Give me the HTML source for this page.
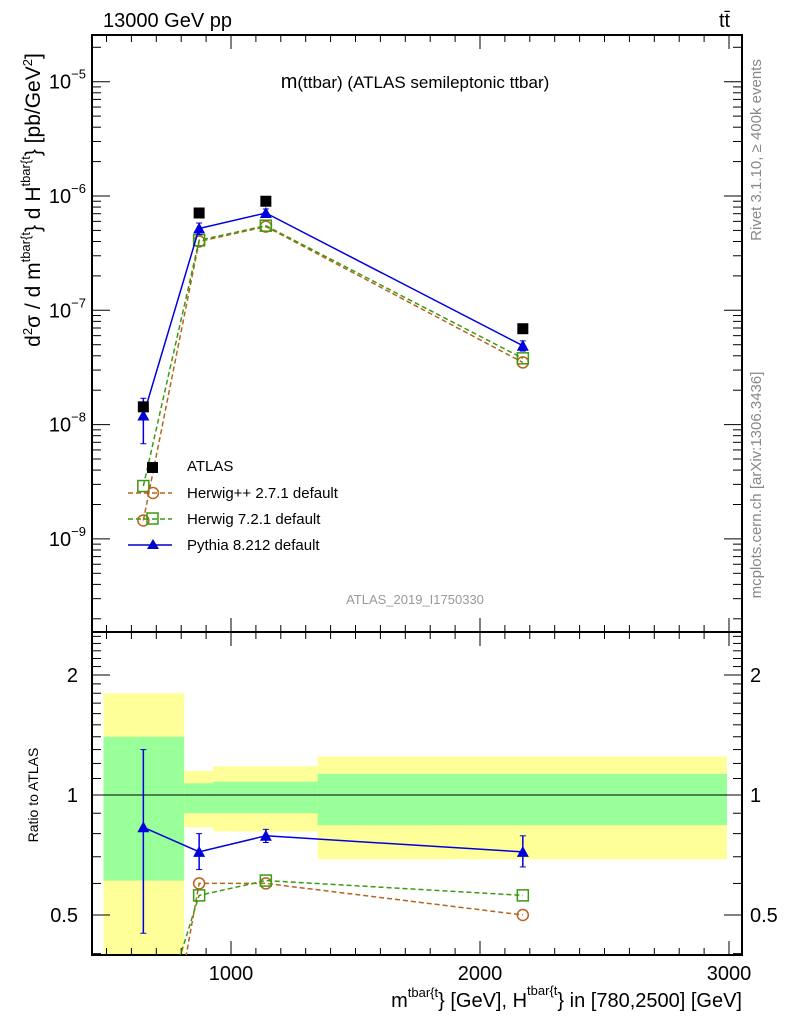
<!DOCTYPE html>
<html><head><meta charset="utf-8"><style>
html,body{margin:0;padding:0;background:#fff;width:786px;height:1024px;overflow:hidden}
svg{display:block;font-family:"Liberation Sans",sans-serif}
</style></head><body>
<svg id="c" width="786" height="1024" viewBox="0 0 786 1024" xmlns="http://www.w3.org/2000/svg">
<defs><clipPath id="rc"><rect x="92" y="632" width="650" height="323"/></clipPath></defs>
<g id="bands"></g>
<g id="g"></g>
<text x="103" y="27" font-size="20">13000 GeV pp</text>
<text x="719" y="27" font-size="20">tt̄</text>
<text x="415" y="88" font-size="17" text-anchor="middle"><tspan font-size="20">m</tspan>(ttbar) (ATLAS semileptonic ttbar)</text>
<text x="415" y="604" font-size="13" fill="#999" text-anchor="middle">ATLAS_2019_I1750330</text>
<text transform="translate(761,150) rotate(-90)" font-size="15" fill="#888" text-anchor="middle">Rivet 3.1.10, ≥ 400k events</text>
<text transform="translate(761,485) rotate(-90)" font-size="15" fill="#888" text-anchor="middle">mcplots.cern.ch [arXiv:1306.3436]</text>
<text transform="translate(40,200) rotate(-90)" font-size="21" text-anchor="middle">d<tspan font-size="13" dy="-8">2</tspan><tspan dy="8">σ / d m</tspan><tspan font-size="13" dy="-10">tbar{t</tspan><tspan dy="10">} d H</tspan><tspan font-size="13" dy="-10">tbar{t</tspan><tspan dy="10">} [pb/GeV</tspan><tspan font-size="13" dy="-8">2</tspan><tspan dy="8">]</tspan></text>
<text transform="translate(38,795) rotate(-90)" font-size="14" text-anchor="middle">Ratio to ATLAS</text>
<text x="742" y="1007" font-size="20" text-anchor="end">m<tspan font-size="13" dy="-10">tbar{t</tspan><tspan dy="10">} [GeV], H</tspan><tspan font-size="13" dy="-12">tbar{t</tspan><tspan dy="12">} in [780,2500] [GeV]</tspan></text>
<g font-size="15">
<text x="187" y="471">ATLAS</text>
<rect x="147" y="462" width="11" height="11" fill="#000"/>
<line x1="128" y1="493" x2="172" y2="493" stroke="#b5651d" stroke-width="1.5" stroke-dasharray="5,3"/>
<circle cx="153" cy="493" r="5.5" fill="none" stroke="#b5651d" stroke-width="1.5"/>
<text x="187" y="498">Herwig++ 2.7.1 default</text>
<line x1="128" y1="519" x2="172" y2="519" stroke="#3a9a10" stroke-width="1.5" stroke-dasharray="5,3"/>
<rect x="147" y="513" width="11" height="11" fill="none" stroke="#3a9a10" stroke-width="1.5"/>
<text x="187" y="524">Herwig 7.2.1 default</text>
<line x1="128" y1="545" x2="172" y2="545" stroke="#00c" stroke-width="1.5"/>
<path d="M153,539 L159,549 L147,549Z" fill="#00c"/>
<text x="187" y="550">Pythia 8.212 default</text>
</g>
</svg>
<script>
const xVals=[648,872,1140,2172];
const atlas=[1.43e-8,7.1e-7,9.0e-7,6.9e-8];
const pythia=[1.2e-8,5.2e-7,7.1e-7,4.9e-8];
const pythiaLo=[6.8e-9,4.6e-7,6.5e-7,4.4e-8];
const pythiaHi=[1.7e-8,5.8e-7,7.7e-7,5.4e-8];
const herwigpp=[1.45e-9,4.0e-7,5.4e-7,3.5e-8];
const herwig7=[2.9e-9,4.1e-7,5.5e-7,3.8e-8];
const binEdges=[488,812,928,1348,2992];
const yellowLo=[0.3,0.83,0.81,0.69];
const yellowHi=[1.80,1.15,1.18,1.25];
const greenLo=[0.61,0.90,0.90,0.84];
const greenHi=[1.40,1.07,1.08,1.13];
const rPythia=[0.83,0.72,0.79,0.72];
const rPythiaLo=[0.45,0.65,0.76,0.66];
const rPythiaHi=[1.30,0.80,0.82,0.79];
const rHerwigpp=[0.10,0.60,0.60,0.50];
const rHerwig7=[0.20,0.56,0.61,0.56];
const mainTicks=["10","10","10","10","10"];
const mainExps=[-5,-6,-7,-8,-9];
const xTickLabels=[1000,2000,3000];
const ratioTickLabels=[0.5,1,2];

const L=92,R=742,T=35,MB=632,RB=955;
const X=v=>231+(v-1000)*0.249;
const Y=v=>196-(Math.log10(v)+6)*114.3;
const YR=v=>795-Math.log2(v)*120;
const NS='http://www.w3.org/2000/svg';
const g=document.getElementById('g'),bands=document.getElementById('bands');
function mk(p,tag,at){const e=document.createElementNS(NS,tag);for(const k in at)e.setAttribute(k,at[k]);p.appendChild(e);return e;}
function clip(v,a,b){return Math.max(a,Math.min(b,v));}

for(let i=0;i<4;i++){
 const x1=X(binEdges[i]),x2=X(binEdges[i+1]);
 const y1=clip(YR(yellowHi[i]),MB,RB),y2=clip(YR(yellowLo[i]),MB,RB);
 const b=mk(bands,'rect',{x:x1,y:y1,width:x2-x1,height:y2-y1,fill:'#ffff99'});
 
 
 const c=mk(bands,'rect',{x:x1,y:YR(greenHi[i]),width:x2-x1,height:YR(greenLo[i])-YR(greenHi[i]),fill:'#99ff99'});
 
 
}
mk(g,'line',{x1:L,y1:795,x2:R,y2:795,stroke:'#000','stroke-width':1});

for(const [a,b] of [[T,MB],[MB,RB]]){
 const f=mk(g,'rect',{x:L,y:a,width:R-L,height:b-a,fill:'none',stroke:'#000','stroke-width':2});
 
 
 for(let v=500;v<=3000;v+=100){const x=X(v);if(x<L||x>R)continue;const len=v%1000==0?14:7;
  mk(g,'line',{x1:x,y1:a,x2:x,y2:a+len,stroke:'#000'});mk(g,'line',{x1:x,y1:b,x2:x,y2:b-len,stroke:'#000'});}
}
for(let e=-10;e<=-4;e++)for(let m=1;m<10;m++){const y=Y(m*Math.pow(10,e));if(y<T||y>MB)continue;const len=m==1?18:9;
 mk(g,'line',{x1:L,y1:y,x2:L+len,y2:y,stroke:'#000'});mk(g,'line',{x1:R,y1:y,x2:R-len,y2:y,stroke:'#000'});}
mainExps.forEach((e,i)=>{const t=mk(g,'text',{x:86,y:Y(Math.pow(10,e))+7,'font-size':20,'text-anchor':'end'});
 
 
 t.textContent=mainTicks[i];const s=mk(t,'tspan',{dy:-10,'font-size':13});s.textContent='−'+Math.abs(e);});
for(let v=0.4;v<=2.6;v+=0.1){const vv=Math.round(v*10)/10;const y=YR(vv);if(y<MB||y>RB)continue;const len=[0.5,1,2].includes(vv)?18:9;
 mk(g,'line',{x1:L,y1:y,x2:L+len,y2:y,stroke:'#000'});mk(g,'line',{x1:R,y1:y,x2:R-len,y2:y,stroke:'#000'});}
ratioTickLabels.forEach(v=>{for(const [x,a] of [[78,'end'],[750,'start']]){const t=mk(g,'text',{x:x,y:YR(v)+7,'font-size':20,'text-anchor':a});
 
 
 t.textContent=v;}});
xTickLabels.forEach(v=>{const t=mk(g,'text',{x:X(v),y:980,'font-size':20,'text-anchor':'middle'});
 
 
 t.textContent=v;});

function series(vals,yf,color,dash,marker,name,lo,hi,top,bot){
 const pts=vals.map((v,i)=>[X(xVals[i]),yf(v)]);
 const pl=mk(g,'polyline',{points:pts.map(p=>p.join(',')).join(' '),fill:'none',stroke:color,'stroke-width':1.5});
 if(dash)pl.setAttribute('stroke-dasharray','5,3');
 
 
 pts.forEach((p,i)=>{
  if(lo){const y1=clip(yf(lo[i]),top,bot),y2=clip(yf(hi[i]),top,bot);mk(g,'line',{x1:p[0],y1:y1,x2:p[0],y2:y2,stroke:color,'stroke-width':1.5});
   mk(g,'line',{x1:p[0]-3,y1:y1,x2:p[0]+3,y2:y1,stroke:color});mk(g,'line',{x1:p[0]-3,y1:y2,x2:p[0]+3,y2:y2,stroke:color});}
  if(p[1]>bot||p[1]<top)return;
  let m;
  if(marker=='tri')m=mk(g,'path',{d:`M${p[0]},${p[1]-6} L${p[0]+6},${p[1]+5} L${p[0]-6},${p[1]+5}Z`,fill:color});
  else if(marker=='circ')m=mk(g,'circle',{cx:p[0],cy:p[1],r:5.5,fill:'none',stroke:color,'stroke-width':1.5});
  else if(marker=='osq')m=mk(g,'rect',{x:p[0]-5.5,y:p[1]-5.5,width:11,height:11,fill:'none',stroke:color,'stroke-width':1.5});
  else m=mk(g,'rect',{x:p[0]-5.5,y:p[1]-5.5,width:11,height:11,fill:color});
  
  
 });
 return pl;
}
series(herwigpp,Y,'#b5651d',true,'circ','herwigpp',null,null,T,MB);
series(herwig7,Y,'#3a9a10',true,'osq','herwig7',null,null,T,MB);
series(pythia,Y,'#0000dd',false,'tri','pythia',pythiaLo,pythiaHi,T,MB);
atlas.forEach((v,i)=>{const r=mk(g,'rect',{x:X(xVals[i])-5.5,y:Y(v)-5.5,width:11,height:11,fill:'#000'});
 
 });
const a=series(rHerwigpp,YR,'#b5651d',true,'circ','ratio-herwigpp',null,null,MB,RB);a.setAttribute('clip-path','url(#rc)');
const b=series(rHerwig7,YR,'#3a9a10',true,'osq','ratio-herwig7',null,null,MB,RB);b.setAttribute('clip-path','url(#rc)');
series(rPythia,YR,'#0000dd',false,'tri','ratio-pythia',rPythiaLo,rPythiaHi,MB,RB);
</script>
</body></html>
